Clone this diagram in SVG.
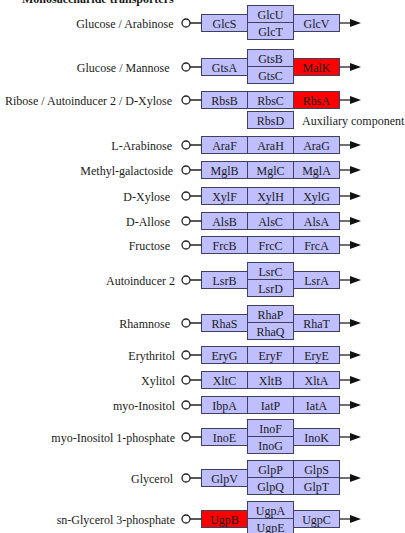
<svg xmlns="http://www.w3.org/2000/svg" width="405" height="533" viewBox="0 0 405 533">
<defs>
<style>
text{font-family:"Liberation Serif","Times New Roman",serif;font-size:12px;fill:#1a1a1a}
.lb{text-anchor:end}
.bt{text-anchor:middle}
.b{fill:#BFBFFF;stroke:#3f3f5f;stroke-width:1}
.r{fill:#FF0000;stroke:#3f3f5f;stroke-width:1}
.c{fill:#fff;stroke:#222;stroke-width:1.3}
.ln{stroke:#222;stroke-width:1.3;fill:none}
.title{font-weight:bold;font-size:12px}
</style>
<marker id="ah" markerWidth="11" markerHeight="8" refX="0" refY="4" orient="auto" markerUnits="userSpaceOnUse">
<path d="M0,0 L11,4 L0,8 Z" fill="#111"/>
</marker>
</defs>
<rect width="405" height="533" fill="#fff"/>
<text class="title" x="22" y="2.5">Monosaccharide transporters</text>

<g id="glc">
<text class="lb" x="173.5" y="27.5">Glucose / Arabinose</text>
<circle class="c" cx="186" cy="23" r="4"/>
<rect class="b" x="201.5" y="14.5" width="46" height="17"/><text class="bt" x="224.5" y="27.5">GlcS</text>
<rect class="b" x="247.5" y="5.5" width="46" height="17"/><text class="bt" x="270.5" y="18.5">GlcU</text>
<rect class="b" x="247.5" y="22.5" width="46" height="17"/><text class="bt" x="270.5" y="35.5">GlcT</text>
<rect class="b" x="293.5" y="14.5" width="46" height="17"/><text class="bt" x="316.5" y="27.5">GlcV</text>
</g>

<g id="gts">
<text class="lb" x="169.5" y="71.5">Glucose / Mannose</text>
<circle class="c" cx="186" cy="67" r="4"/>
<rect class="b" x="201.5" y="58.5" width="46" height="17"/><text class="bt" x="224.5" y="71.5">GtsA</text>
<rect class="b" x="247.5" y="49.5" width="46" height="17"/><text class="bt" x="270.5" y="62.5">GtsB</text>
<rect class="b" x="247.5" y="66.5" width="46" height="17"/><text class="bt" x="270.5" y="79.5">GtsC</text>
<rect class="r" x="293.5" y="58.5" width="46" height="17"/><text class="bt" x="316.5" y="71.5">MalK</text>
</g>

<g id="rbs">
<text class="lb" x="172" y="104.5">Ribose / Autoinducer 2 / D-Xylose</text>
<circle class="c" cx="186" cy="100" r="4"/>
<rect class="b" x="201.5" y="91.5" width="46" height="17"/><text class="bt" x="224.5" y="104.5">RbsB</text>
<rect class="b" x="247.5" y="91.5" width="46" height="17"/><text class="bt" x="270.5" y="104.5">RbsC</text>
<rect class="r" x="293.5" y="91.5" width="46" height="17"/><text class="bt" x="316.5" y="104.5">RbsA</text>
<rect class="b" x="247.5" y="111.5" width="46" height="17"/><text class="bt" x="270.5" y="124.5">RbsD</text>
<text x="302" y="124.5">Auxiliary component</text>
</g>

<g id="ara">
<text class="lb" x="172" y="149.5">L-Arabinose</text>
<circle class="c" cx="186" cy="145" r="4"/>
<rect class="b" x="201.5" y="136.5" width="46" height="17"/><text class="bt" x="224.5" y="149.5">AraF</text>
<rect class="b" x="247.5" y="136.5" width="46" height="17"/><text class="bt" x="270.5" y="149.5">AraH</text>
<rect class="b" x="293.5" y="136.5" width="46" height="17"/><text class="bt" x="316.5" y="149.5">AraG</text>
</g>

<g id="mgl">
<text class="lb" x="173" y="174.5">Methyl-galactoside</text>
<circle class="c" cx="186" cy="170" r="4"/>
<rect class="b" x="201.5" y="161.5" width="46" height="17"/><text class="bt" x="224.5" y="174.5">MglB</text>
<rect class="b" x="247.5" y="161.5" width="46" height="17"/><text class="bt" x="270.5" y="174.5">MglC</text>
<rect class="b" x="293.5" y="161.5" width="46" height="17"/><text class="bt" x="316.5" y="174.5">MglA</text>
</g>

<g id="xyl">
<text class="lb" x="170" y="200.5">D-Xylose</text>
<circle class="c" cx="186" cy="196" r="4"/>
<rect class="b" x="201.5" y="187.5" width="46" height="17"/><text class="bt" x="224.5" y="200.5">XylF</text>
<rect class="b" x="247.5" y="187.5" width="46" height="17"/><text class="bt" x="270.5" y="200.5">XylH</text>
<rect class="b" x="293.5" y="187.5" width="46" height="17"/><text class="bt" x="316.5" y="200.5">XylG</text>
</g>

<g id="als">
<text class="lb" x="170" y="225.5">D-Allose</text>
<circle class="c" cx="186" cy="221" r="4"/>
<rect class="b" x="201.5" y="212.5" width="46" height="17"/><text class="bt" x="224.5" y="225.5">AlsB</text>
<rect class="b" x="247.5" y="212.5" width="46" height="17"/><text class="bt" x="270.5" y="225.5">AlsC</text>
<rect class="b" x="293.5" y="212.5" width="46" height="17"/><text class="bt" x="316.5" y="225.5">AlsA</text>
</g>

<g id="frc">
<text class="lb" x="170" y="249.5">Fructose</text>
<circle class="c" cx="186" cy="245" r="4"/>
<rect class="b" x="201.5" y="236.5" width="46" height="17"/><text class="bt" x="224.5" y="249.5">FrcB</text>
<rect class="b" x="247.5" y="236.5" width="46" height="17"/><text class="bt" x="270.5" y="249.5">FrcC</text>
<rect class="b" x="293.5" y="236.5" width="46" height="17"/><text class="bt" x="316.5" y="249.5">FrcA</text>
</g>

<g id="lsr">
<text class="lb" x="175" y="284.5">Autoinducer 2</text>
<circle class="c" cx="186" cy="280" r="4"/>
<rect class="b" x="201.5" y="271.5" width="46" height="17"/><text class="bt" x="224.5" y="284.5">LsrB</text>
<rect class="b" x="247.5" y="262.5" width="46" height="17"/><text class="bt" x="270.5" y="275.5">LsrC</text>
<rect class="b" x="247.5" y="279.5" width="46" height="17"/><text class="bt" x="270.5" y="292.5">LsrD</text>
<rect class="b" x="293.5" y="271.5" width="46" height="17"/><text class="bt" x="316.5" y="284.5">LsrA</text>
</g>

<g id="rha">
<text class="lb" x="170" y="327.5">Rhamnose</text>
<circle class="c" cx="186" cy="323" r="4"/>
<rect class="b" x="201.5" y="314.5" width="46" height="17"/><text class="bt" x="224.5" y="327.5">RhaS</text>
<rect class="b" x="247.5" y="305.5" width="46" height="17"/><text class="bt" x="270.5" y="318.5">RhaP</text>
<rect class="b" x="247.5" y="322.5" width="46" height="17"/><text class="bt" x="270.5" y="335.5">RhaQ</text>
<rect class="b" x="293.5" y="314.5" width="46" height="17"/><text class="bt" x="316.5" y="327.5">RhaT</text>
</g>

<g id="ery">
<text class="lb" x="175" y="359.5">Erythritol</text>
<circle class="c" cx="186" cy="355" r="4"/>
<rect class="b" x="201.5" y="346.5" width="46" height="17"/><text class="bt" x="224.5" y="359.5">EryG</text>
<rect class="b" x="247.5" y="346.5" width="46" height="17"/><text class="bt" x="270.5" y="359.5">EryF</text>
<rect class="b" x="293.5" y="346.5" width="46" height="17"/><text class="bt" x="316.5" y="359.5">EryE</text>
</g>

<g id="xlt">
<text class="lb" x="175" y="384.5">Xylitol</text>
<circle class="c" cx="186" cy="380" r="4"/>
<rect class="b" x="201.5" y="371.5" width="46" height="17"/><text class="bt" x="224.5" y="384.5">XltC</text>
<rect class="b" x="247.5" y="371.5" width="46" height="17"/><text class="bt" x="270.5" y="384.5">XltB</text>
<rect class="b" x="293.5" y="371.5" width="46" height="17"/><text class="bt" x="316.5" y="384.5">XltA</text>
</g>

<g id="iat">
<text class="lb" x="175" y="409.5">myo-Inositol</text>
<circle class="c" cx="186" cy="405" r="4"/>
<rect class="b" x="201.5" y="396.5" width="46" height="17"/><text class="bt" x="224.5" y="409.5">IbpA</text>
<rect class="b" x="247.5" y="396.5" width="46" height="17"/><text class="bt" x="270.5" y="409.5">IatP</text>
<rect class="b" x="293.5" y="396.5" width="46" height="17"/><text class="bt" x="316.5" y="409.5">IatA</text>
</g>

<g id="ino">
<text class="lb" x="175" y="441.5">myo-Inositol 1-phosphate</text>
<circle class="c" cx="186" cy="437" r="4"/>
<rect class="b" x="201.5" y="428.5" width="46" height="17"/><text class="bt" x="224.5" y="441.5">InoE</text>
<rect class="b" x="247.5" y="419.5" width="46" height="17"/><text class="bt" x="270.5" y="432.5">InoF</text>
<rect class="b" x="247.5" y="436.5" width="46" height="17"/><text class="bt" x="270.5" y="449.5">InoG</text>
<rect class="b" x="293.5" y="428.5" width="46" height="17"/><text class="bt" x="316.5" y="441.5">InoK</text>
</g>

<g id="glp">
<text class="lb" x="173" y="482.5">Glycerol</text>
<circle class="c" cx="186" cy="478" r="4"/>
<rect class="b" x="201.5" y="469.5" width="46" height="17"/><text class="bt" x="224.5" y="482.5">GlpV</text>
<rect class="b" x="247.5" y="460.5" width="46" height="17"/><text class="bt" x="270.5" y="473.5">GlpP</text>
<rect class="b" x="247.5" y="477.5" width="46" height="17"/><text class="bt" x="270.5" y="490.5">GlpQ</text>
<rect class="b" x="293.5" y="460.5" width="46" height="17"/><text class="bt" x="316.5" y="473.5">GlpS</text>
<rect class="b" x="293.5" y="477.5" width="46" height="17"/><text class="bt" x="316.5" y="490.5">GlpT</text>
</g>

<g id="ugp">
<text class="lb" x="175" y="523.5">sn-Glycerol 3-phosphate</text>
<circle class="c" cx="186" cy="519" r="4"/>
<rect class="r" x="201.5" y="510.5" width="46" height="17"/><text class="bt" x="224.5" y="523.5">UgpB</text>
<rect class="b" x="247.5" y="501.5" width="46" height="17"/><text class="bt" x="270.5" y="514.5">UgpA</text>
<rect class="b" x="247.5" y="518.5" width="46" height="17"/><text class="bt" x="270.5" y="531.5">UgpE</text>
<rect class="b" x="293.5" y="510.5" width="46" height="17"/><text class="bt" x="316.5" y="523.5">UgpC</text>
</g>

<g id="connectors">
<path class="ln" d="M190,23H201.5M190,67H201.5M190,100H201.5M190,145H201.5M190,170H201.5M190,196H201.5M190,221H201.5M190,245H201.5M190,280H201.5M190,323H201.5M190,355H201.5M190,380H201.5M190,405H201.5M190,437H201.5M190,478H201.5M190,519H201.5"/>
<line class="ln" x1="339.5" y1="23" x2="350" y2="23" marker-end="url(#ah)"/>
<line class="ln" x1="339.5" y1="67" x2="350" y2="67" marker-end="url(#ah)"/>
<line class="ln" x1="339.5" y1="100" x2="350" y2="100" marker-end="url(#ah)"/>
<line class="ln" x1="339.5" y1="145" x2="350" y2="145" marker-end="url(#ah)"/>
<line class="ln" x1="339.5" y1="170" x2="350" y2="170" marker-end="url(#ah)"/>
<line class="ln" x1="339.5" y1="196" x2="350" y2="196" marker-end="url(#ah)"/>
<line class="ln" x1="339.5" y1="221" x2="350" y2="221" marker-end="url(#ah)"/>
<line class="ln" x1="339.5" y1="245" x2="350" y2="245" marker-end="url(#ah)"/>
<line class="ln" x1="339.5" y1="280" x2="350" y2="280" marker-end="url(#ah)"/>
<line class="ln" x1="339.5" y1="323" x2="350" y2="323" marker-end="url(#ah)"/>
<line class="ln" x1="339.5" y1="355" x2="350" y2="355" marker-end="url(#ah)"/>
<line class="ln" x1="339.5" y1="380" x2="350" y2="380" marker-end="url(#ah)"/>
<line class="ln" x1="339.5" y1="405" x2="350" y2="405" marker-end="url(#ah)"/>
<line class="ln" x1="339.5" y1="437" x2="350" y2="437" marker-end="url(#ah)"/>
<line class="ln" x1="339.5" y1="478" x2="350" y2="478" marker-end="url(#ah)"/>
<line class="ln" x1="339.5" y1="519" x2="350" y2="519" marker-end="url(#ah)"/>
</g>
</svg>
